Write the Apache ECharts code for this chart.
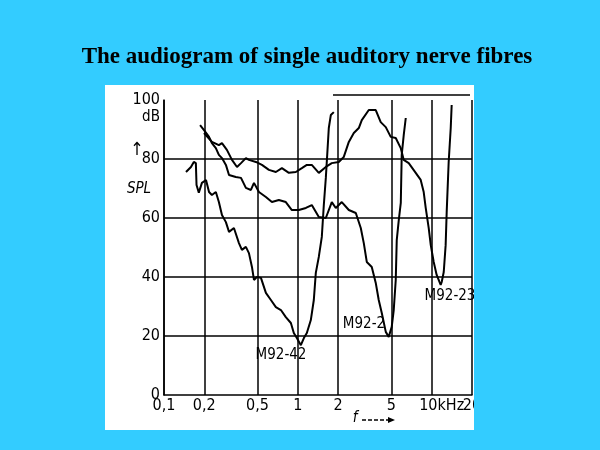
<!DOCTYPE html>
<html><head><meta charset="utf-8">
<script src="https://cdn.jsdelivr.net/npm/echarts@6/dist/echarts.min.js"></script>
<style>html,body{margin:0;padding:0;background:#33ccff;}#c{width:600px;height:450px;}</style>
</head><body><div id="c"></div>
<script>
const titleText = 'The audiogram of single auditory nerve fibres';
const xTicks = [0.1, 0.2, 0.5, 1, 2, 5, 10, 20];
const xTickLabels = ['0,1', '0,2', '0,5', '1', '2', '5', '10kHz', '20'];
const yGrid = [20, 40, 60, 80];
const yTickLabels = ['0', '20', '40', '60', '80', '100'];
const seriesNames = ['M92-42', 'M92-2', 'M92-23'];

const m9242F = [0.146,0.159,0.167,0.173,0.175,0.182,0.192,0.206,0.217,0.228,0.244,0.257,0.271,0.290,0.306,0.333,0.363,0.382,0.409,0.431,0.454,0.470,0.494,0.530,0.577,0.629,0.685,0.747,0.813,0.887,0.933,0.983,1.053,1.109,1.167,1.250,1.316,1.362,1.434,1.510,1.563,1.618,1.660,1.703,1.763,1.856];
const m9242Db = [75.6,77.3,79.0,78.6,71.2,68.6,71.9,72.9,68.8,67.8,68.8,65.4,61.0,58.6,55.3,56.6,51.5,49.2,50.2,48.1,43.4,39.0,40.0,39.7,34.6,32.2,29.8,28.8,26.4,24.4,21.0,19.3,16.9,19.3,21.0,25.4,32.2,41.4,46.8,53.6,64.4,73.6,82.0,90.5,94.9,95.9];

const m922F = [0.186,0.199,0.217,0.228,0.244,0.257,0.271,0.290,0.306,0.344,0.376,0.409,0.446,0.470,0.512,0.577,0.640,0.721,0.813,0.902,1.017,1.148,1.271,1.434,1.618,1.793,1.921,2.129,2.403,2.710,2.952,3.109,3.273,3.566,3.819,4.020,4.236,4.538,4.775,5.027,5.204,5.387,5.481,5.675,5.875,5.970,6.180,6.400];
const m922Db = [91.5,89.8,87.5,85.4,83.7,81.4,80.3,78.0,74.6,73.9,73.6,70.2,69.5,71.9,68.8,67.1,65.4,66.1,65.4,62.7,62.7,63.4,64.4,60.3,60.0,65.4,63.4,65.4,62.7,61.7,56.6,51.5,45.1,43.4,38.0,32.2,27.8,21.4,19.7,23.1,28.8,39.0,52.5,59.3,65.1,81.4,88.1,93.9];

const m9223F = [0.199,0.228,0.257,0.271,0.295,0.322,0.351,0.376,0.409,0.431,0.486,0.539,0.608,0.685,0.760,0.857,0.966,1.071,1.167,1.271,1.434,1.618,1.793,2.022,2.204,2.403,2.618,2.853,3.004,3.388,3.819,4.160,4.538,4.943,5.387,5.870,6.180,6.736,7.596,8.277,8.714,9.020,9.500,9.840,10.35,10.89,11.67,11.88,12.30,12.71,12.94,13.39,13.87,14.10];
const m9223Db = [88.8,85.8,84.7,85.4,83.1,79.7,77.3,78.6,80.3,79.7,79.0,78.0,76.3,75.6,76.9,75.3,75.6,76.9,78.0,78.0,75.3,77.3,78.6,79.0,80.7,85.8,88.8,90.5,93.2,96.6,96.6,92.5,90.8,87.5,87.1,83.7,79.7,78.6,75.3,72.9,68.8,63.4,56.6,50.8,45.1,40.7,37.3,38.3,41.7,50.8,62.0,79.0,90.5,98.3];

const zip = (a, b) => a.map((v, i) => [v, b[i]]);
const lblFont = "'DejaVu Sans Condensed','DejaVu Sans',sans-serif";
const cond = 'normal condensed';

const chart = echarts.init(document.getElementById('c'), null, {renderer: 'canvas'});
const lineSeries = (name, f, db) => ({
  name, type: 'line', data: zip(f, db), showSymbol: false, symbol: 'none',
  lineStyle: {color: '#000', width: 2}, animation: false, z: 5
});
const s0 = lineSeries(seriesNames[0], m9242F, m9242Db);
s0.markLine = {
  silent: true, symbol: 'none', animation: false,
  lineStyle: {color: '#000', width: 1.5, type: 'solid'},
  data: xTicks.map((v, i) => ({
    xAxis: v,
    label: {show: true, position: 'start', distance: 3, formatter: xTickLabels[i],
      color: '#000', fontFamily: lblFont, fontSize: 16, fontWeight: cond,
      padding: i === 6 ? [0, 0, 0, 20] : 0}
  })).concat(yGrid.map(v => ({yAxis: v, label: {show: false}})))
};
const txt = (x, y, text, font) => ({type: 'text', x, y, style: {text, font, fill: '#000', textAlign: 'center', textVerticalAlign: 'middle'}});
const option = {
  backgroundColor: '#33ccff',
  animation: false,
  graphic: [
    {type: 'rect', shape: {x: 105, y: 85, width: 369, height: 345}, style: {fill: '#fff'}, z: -10, silent: true},
    {type: 'rect', shape: {x: 474, y: 85, width: 126, height: 345}, style: {fill: '#33ccff'}, z: 100, zlevel: 1, silent: true},
    txt(307, 57, titleText, "bold 23px 'Liberation Serif','DejaVu Serif',serif"),
    txt(151, 117, 'dB', "normal normal condensed 15px " + lblFont),
    txt(137, 150, '↑', "18px " + lblFont),
    txt(139, 189, 'SPL', "italic normal condensed 15px " + lblFont),
    txt(355, 418, 'f', "italic 15px " + lblFont),
    {type: 'line', shape: {x1: 362, y1: 420, x2: 390, y2: 420}, style: {stroke: '#000', lineWidth: 1.5, lineDash: [4, 2]}},
    {type: 'polygon', shape: {points: [[388, 417], [395, 420], [388, 423]]}, style: {fill: '#000'}},
    {type: 'line', shape: {x1: 333, y1: 95, x2: 470, y2: 95}, style: {stroke: '#000', lineWidth: 1.5}},
    txt(281, 355, seriesNames[0], "normal normal condensed 15px " + lblFont),
    txt(364, 324, seriesNames[1], "normal normal condensed 15px " + lblFont),
    txt(450, 296, seriesNames[2], "normal normal condensed 15px " + lblFont)
  ],
  grid: {left: 164, right: 128, top: 100, bottom: 55},
  xAxis: {
    type: 'log', logBase: 10, min: 0.1, max: 20,
    axisLine: {show: true, lineStyle: {color: '#000', width: 1.5}},
    axisTick: {show: false}, axisLabel: {show: false}, splitLine: {show: false}
  },
  yAxis: {
    type: 'value', min: 0, max: 100, interval: 20,
    axisLine: {show: true, lineStyle: {color: '#000', width: 1.5}},
    axisTick: {show: false}, splitLine: {show: false},
    axisLabel: {color: '#000', fontFamily: lblFont, fontSize: 16, fontWeight: cond, margin: 4,
      formatter: (v) => yTickLabels[Math.round(v / 20)]}
  },
  series: [s0, lineSeries(seriesNames[1], m922F, m922Db), lineSeries(seriesNames[2], m9223F, m9223Db)]
};
chart.setOption(option);
</script></body></html>
